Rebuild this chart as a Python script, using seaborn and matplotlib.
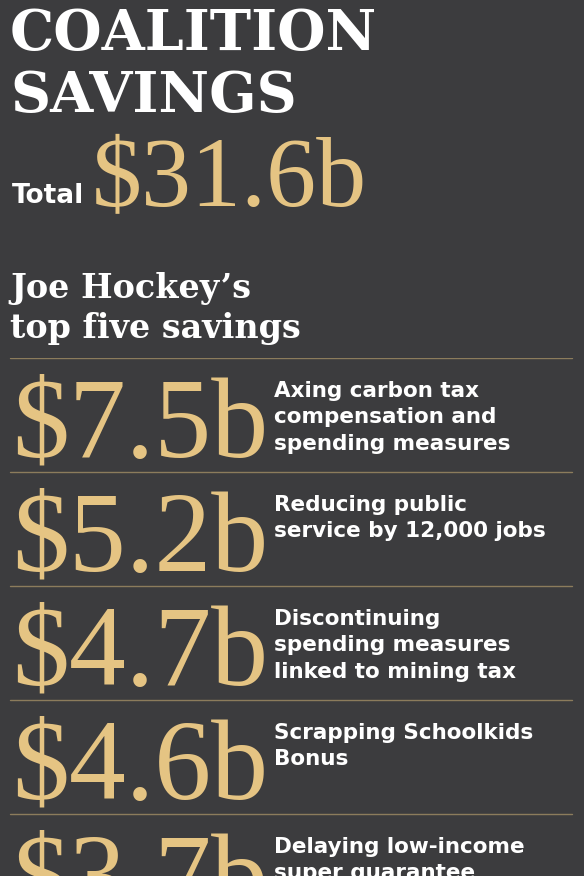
import matplotlib
matplotlib.use("Agg")
import matplotlib.pyplot as plt
import seaborn as sns

sns.set_theme(style="dark")

bg = "#3c3c3e"
gold = "#e5c483"
rule = "#8c7c5c"

total = "$31.6b"
amounts = ["$7.5b", "$5.2b", "$4.7b", "$4.6b", "$3.7b"]
labels = [
    "Axing carbon tax\ncompensation and\nspending measures",
    "Reducing public\nservice by 12,000 jobs",
    "Discontinuing\nspending measures\nlinked to mining tax",
    "Scrapping Schoolkids\nBonus",
    "Delaying low-income\nsuper guarantee",
]

W, H = 584, 876
fig = plt.figure(figsize=(W / 100, H / 100), dpi=100, facecolor=bg)

# header in pixel space
def ft(x, y, s, **kw):
    fig.text(x / W, 1 - y / H, s, **kw)

ft(10, 50, "COALITION", color="white", fontsize=40, fontweight="bold",
   family="DejaVu Serif", va="baseline")
ft(10, 112, "SAVINGS", color="white", fontsize=40, fontweight="bold",
   family="DejaVu Serif", va="baseline")
ft(12, 203, "Total", color="white", fontsize=19, fontweight="bold",
   family="DejaVu Sans", va="baseline")
ft(92, 206, total, color=gold, fontsize=72, family="Liberation Serif",
   va="baseline")
ft(10, 298, "Joe Hockey\u2019s", color="white", fontsize=24, fontweight="bold",
   family="DejaVu Serif", va="baseline")
ft(10, 338, "top five savings", color="white", fontsize=24, fontweight="bold",
   family="DejaVu Serif", va="baseline")

# rows
top = 358
row_h = 114
ax = fig.add_axes([0, 0, 1, (H - top) / H])
ax.set_facecolor(bg)
ax.set_xlim(0, W)
ax.set_ylim((H - top) / row_h, 0)
ax.axis("off")

fig.canvas.draw()
renderer = fig.canvas.get_renderer()
for i, (amt, lab) in enumerate(zip(amounts, labels)):
    ax.plot([10, 572], [i, i], color=rule, lw=1)
    t = ax.text(12, i + 0.86, amt, color=gold, fontsize=82,
                family="Liberation Serif", va="baseline")
    bb = t.get_window_extent(renderer=renderer)
    x_end = ax.transData.inverted().transform((bb.x1, bb.y1))[0]
    ax.text(x_end + 6, i + 0.2, lab, color="white", fontsize=15.5,
            fontweight="bold", family="DejaVu Sans", va="top",
            linespacing=1.4)

fig.savefig("out.png", dpi=100, facecolor=bg)
